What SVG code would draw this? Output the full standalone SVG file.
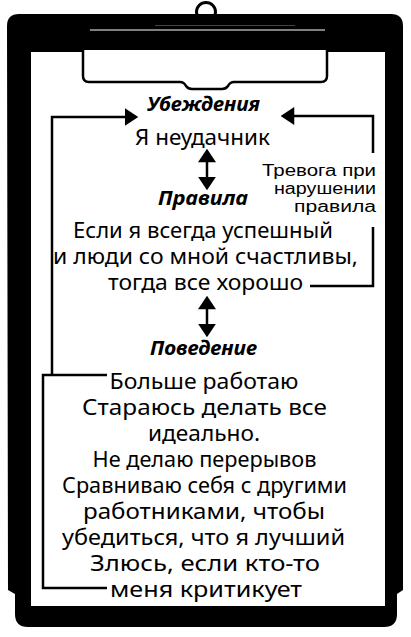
<svg xmlns="http://www.w3.org/2000/svg" width="411" height="637" viewBox="0 0 411 637">
  <style>
    .body { font-family: "Noto Sans", "Open Sans", sans-serif; font-size: 21px; fill: #000; text-anchor: middle; }
    .head { font-family: "Noto Sans", "Open Sans", sans-serif; font-size: 20px; font-weight: bold; font-style: italic; fill: #000; text-anchor: middle; }
    .note { font-family: "Liberation Sans", Arial, sans-serif; font-size: 16px; fill: #000; text-anchor: end; }
    .line { fill: none; stroke: #000; stroke-width: 2.5; }
  </style>
  <defs>
    <marker id="arrow" markerUnits="userSpaceOnUse" markerWidth="14" markerHeight="18" viewBox="0 0 12 16" refX="2" refY="8" orient="auto-start-reverse">
      <path d="M0,0 L12,8 L0,16 Z" fill="#000"/>
    </marker>
  </defs>
  <rect width="411" height="637" fill="#fff"/>

  <!-- clipboard -->
  <g id="clipboard">
    <circle cx="206" cy="12" r="9.5" fill="#fff" stroke="#000" stroke-width="3"/>
    <path d="M7,26 Q7,14 19,14 H391 Q403,14 403,26 V590 L397,594 V614 Q397,627 384,627 H28 Q15,627 15,614 V594 L8,590 Z" fill="#000"/>
    <rect x="31" y="52" width="354" height="554" fill="#fff"/>
    <path d="M83,50 V76 Q83,82 89,82 H180 Q184,82 186,86 Q188,89 192,89 H222 Q226,89 228,86 Q230,82 234,82 H321 Q327,82 327,76 V50" fill="#fff" stroke="#000" stroke-width="2.5"/>
    <line x1="90" y1="30" x2="325" y2="30" stroke="#aaa" stroke-width="1.5"/>
    <line x1="155" y1="25.5" x2="295" y2="25.5" stroke="#444" stroke-width="1"/>
  </g>

  <!-- connectors -->
  <g id="connectors">
    <path class="line" d="M52,375 V117 H127" marker-end="url(#arrow)"/>
    <path class="line" d="M107,375 H43 V588 H107"/>
    <path class="line" d="M310,286 H373 V227"/>
    <path class="line" d="M373,153 V116 H292" marker-end="url(#arrow)"/>
    <path class="line" d="M207,160 V179" marker-start="url(#arrow)" marker-end="url(#arrow)"/>
    <path class="line" d="M207,307 V326" marker-start="url(#arrow)" marker-end="url(#arrow)"/>
  </g>

  <g id="beliefs">
    <text class="head" x="203.5" y="111" textLength="113" lengthAdjust="spacingAndGlyphs">Убеждения</text>
    <text class="body" x="202.5" y="145" textLength="135" lengthAdjust="spacingAndGlyphs">Я неудачник</text>
  </g>

  <g id="anxiety">
    <text class="note" x="376" y="176" textLength="114" lengthAdjust="spacingAndGlyphs">Тревога при</text>
    <text class="note" x="376" y="194" textLength="102" lengthAdjust="spacingAndGlyphs">нарушении</text>
    <text class="note" x="376" y="212" textLength="82" lengthAdjust="spacingAndGlyphs">правила</text>
  </g>

  <g id="rules">
    <text class="head" x="203" y="205" textLength="90" lengthAdjust="spacingAndGlyphs">Правила</text>
    <text class="body" x="203" y="238" textLength="260" lengthAdjust="spacingAndGlyphs">Если я всегда успешный</text>
    <text class="body" x="205.5" y="264" textLength="305" lengthAdjust="spacingAndGlyphs">и люди со мной счастливы,</text>
    <text class="body" x="205.5" y="290" textLength="195" lengthAdjust="spacingAndGlyphs">тогда все хорошо</text>
  </g>

  <g id="behavior">
    <text class="head" x="203.5" y="355" textLength="107" lengthAdjust="spacingAndGlyphs">Поведение</text>
    <text class="body" x="204" y="389" textLength="189" lengthAdjust="spacingAndGlyphs">Больше работаю</text>
    <text class="body" x="204.5" y="415" textLength="245" lengthAdjust="spacingAndGlyphs">Стараюсь делать все</text>
    <text class="body" x="204" y="441" textLength="112" lengthAdjust="spacingAndGlyphs">идеально.</text>
    <text class="body" x="204.5" y="467" textLength="224" lengthAdjust="spacingAndGlyphs">Не делаю перерывов</text>
    <text class="body" x="204.5" y="493" textLength="285" lengthAdjust="spacingAndGlyphs">Сравниваю себя с другими</text>
    <text class="body" x="204" y="519" textLength="242" lengthAdjust="spacingAndGlyphs">работниками, чтобы</text>
    <text class="body" x="203.5" y="545" textLength="283" lengthAdjust="spacingAndGlyphs">убедиться, что я лучший</text>
    <text class="body" x="205" y="571" textLength="230" lengthAdjust="spacingAndGlyphs">Злюсь, если кто-то</text>
    <text class="body" x="206" y="597" textLength="192" lengthAdjust="spacingAndGlyphs">меня критикует</text>
  </g>
</svg>
